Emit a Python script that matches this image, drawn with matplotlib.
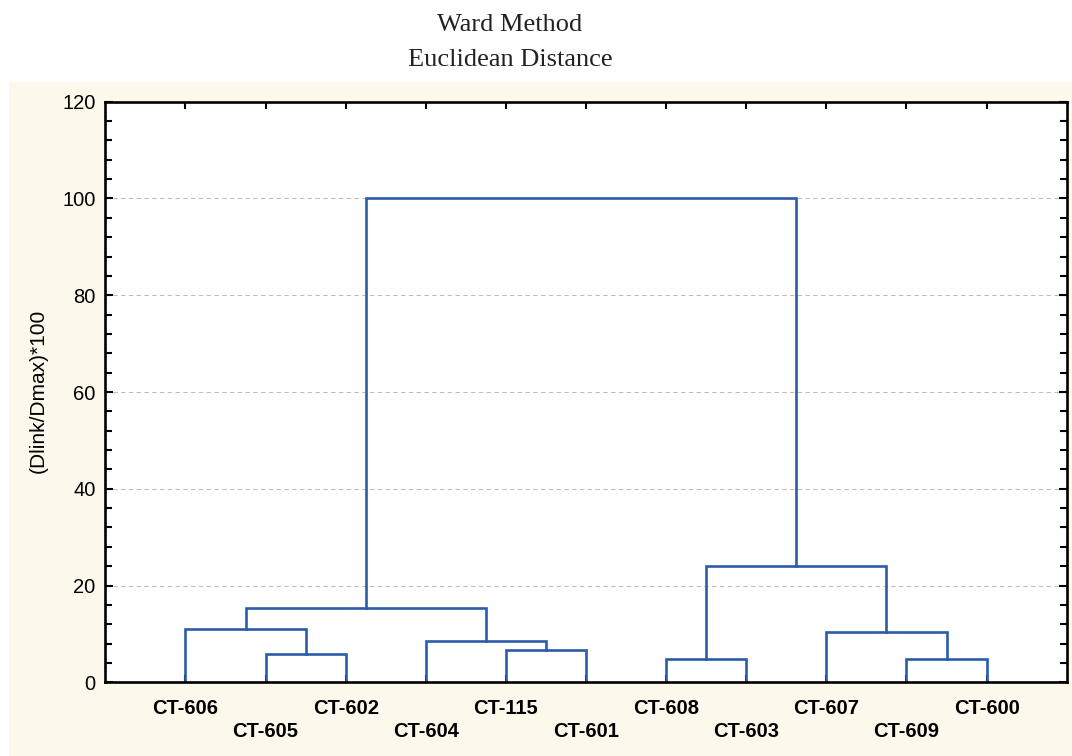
import matplotlib.pyplot as plt
from matplotlib.patches import Rectangle
from matplotlib.ticker import MultipleLocator

# leaves in dendrogram order
leaves = ["CT-606", "CT-605", "CT-602", "CT-604", "CT-115", "CT-601",
          "CT-608", "CT-603", "CT-607", "CT-609", "CT-600"]

# merges: (left node, right node, linkage distance)
# node ids 0..10 are leaves, 11.. are the merges in this order
merges = [
    (1, 2, 5.8),     # 11
    (0, 11, 11.0),   # 12
    (4, 5, 6.75),    # 13
    (3, 13, 8.6),    # 14
    (12, 14, 15.3),  # 15
    (6, 7, 4.8),     # 16
    (9, 10, 4.8),    # 17
    (8, 17, 10.4),   # 18
    (16, 18, 24.0),  # 19
    (15, 19, 100.0), # 20
]

line_color = "#2a5caa"
cream = "#fcf8ec"

plt.rcParams["font.family"] = ["Liberation Sans", "DejaVu Sans"]

fig = plt.figure(figsize=(10.72, 7.56), dpi=100)
fig.patches.append(Rectangle((9 / 1072, 0), 1, (756 - 82) / 756,
                             transform=fig.transFigure, facecolor=cream,
                             edgecolor="none", zorder=-5))

ax = fig.add_axes([105.3 / 1072, 73.7 / 756, 961.4 / 1072, 580.6 / 756])
ax.set_facecolor("white")

# positions and heights of every node
xs = [i + 1 for i in range(len(leaves))]
hs = [0.0] * len(leaves)
for a, b, h in merges:
    ax.plot([xs[a], xs[a], xs[b], xs[b]], [hs[a], h, h, hs[b]],
            color=line_color, lw=1.9, solid_joinstyle="miter", zorder=3)
    xs.append((xs[a] + xs[b]) / 2)
    hs.append(h)

ax.set_xlim(0, len(leaves) + 1)
ax.set_ylim(0, 120)

ax.set_xticks(range(1, len(leaves) + 1))
ax.set_xticklabels([name if i % 2 == 0 else "\n" + name for i, name in enumerate(leaves)],
                   fontsize=14.5, fontweight="bold")
for lab in ax.get_xticklabels():
    lab.set_linespacing(1.25)

ax.yaxis.set_major_locator(MultipleLocator(20))
ax.yaxis.set_minor_locator(MultipleLocator(4))
ax.tick_params(axis="y", which="major", direction="in", length=6, width=1.5,
               left=True, right=True, labelsize=14.5, pad=7)
ax.tick_params(axis="y", which="minor", direction="in", length=5, width=1.5,
               left=True, right=True)
ax.tick_params(axis="x", which="major", direction="in", length=5, width=1.5,
               top=True, bottom=True, pad=12)

ax.grid(axis="y", which="major", linestyle=(0, (4, 3)), color="#bdbdbd", lw=0.8)
ax.set_axisbelow(True)
for sp in ax.spines.values():
    sp.set_linewidth(1.9)
    sp.set_zorder(4)

fig.text(38 / 1072, (756 - 391) / 756, "(Dlink/Dmax)*100", rotation=90,
         ha="center", va="center", fontsize=15)

fig.text(510 / 1072, (756 - 25) / 756, "Ward Method", ha="center", va="center",
         fontsize=19, family="Liberation Serif", color="#222222")
fig.text(510 / 1072, (756 - 60) / 756, "Euclidean Distance", ha="center", va="center",
         fontsize=19, family="Liberation Serif", color="#222222")

fig.savefig("out.png", dpi=100)
